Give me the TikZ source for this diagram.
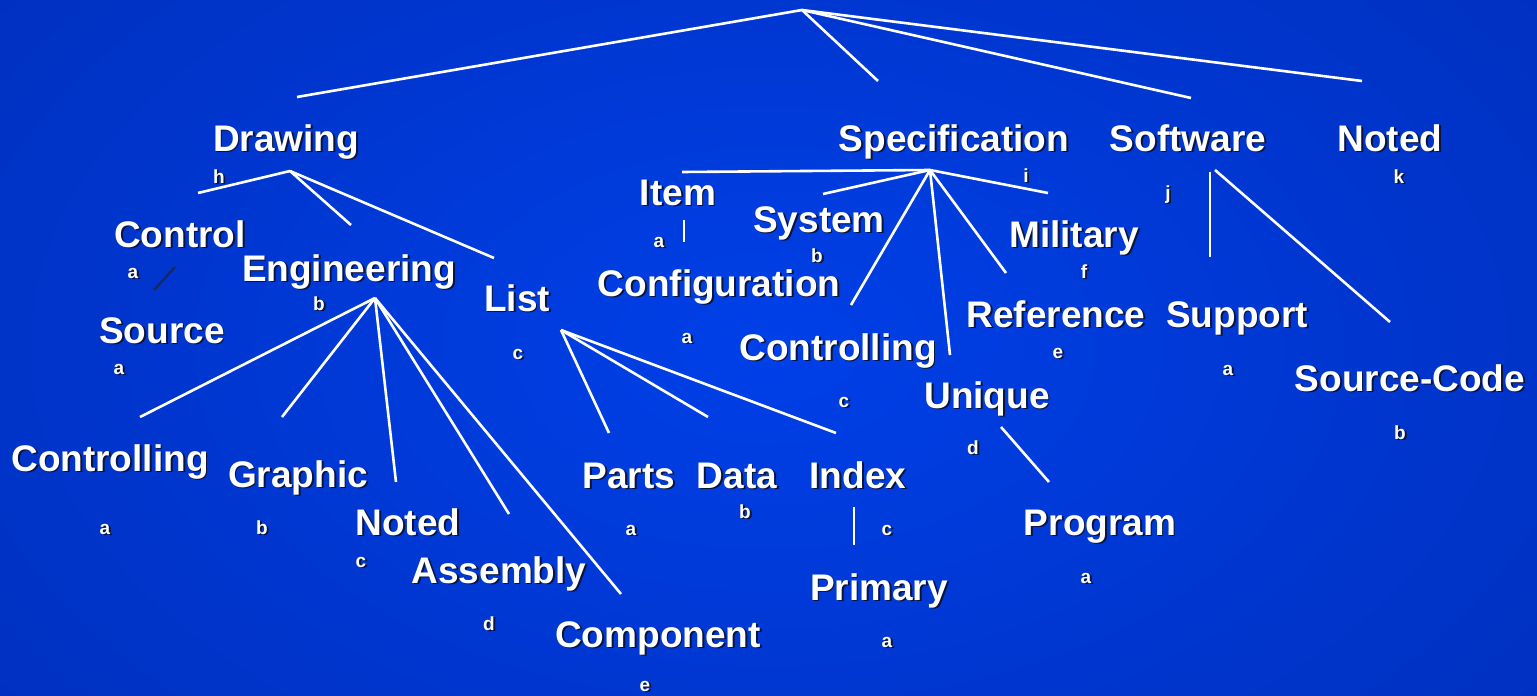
\documentclass[tikz,border=0pt]{standalone}
\usepackage{fontspec}
\setmainfont{Liberation Sans}
\definecolor{bgin}{RGB}{0,64,232}
\definecolor{bgout}{RGB}{0,48,192}
\definecolor{shadowc}{RGB}{10,20,60}
\definecolor{darkline}{RGB}{25,40,90}
\newcommand\shd[1]{\makebox[0pt][l]{\kern1.8pt\raisebox{-1.8pt}{\textcolor{shadowc}{#1}}}#1}
\tikzset{
  word/.style={text=white, inner sep=0pt, anchor=base, font=\fontsize{37}{40}\selectfont\bfseries},
  tag/.style={text=white, inner sep=0pt, anchor=base, font=\fontsize{19}{22}\selectfont\bfseries},
  link/.style={draw=white, line width=2.6pt},
  darklink/.style={draw=darkline, line width=2.2pt}
}
\begin{document}
\begin{tikzpicture}[x=1pt,y=-1pt]
\useasboundingbox (0,0) rectangle (1537,696);
\shade[inner color=bgin, outer color=bgout] (-200,-250) rectangle (1737,946);

% ---- words ----
\node[word] (drawing) at (286,151) {\shd{Drawing}};
\node[tag] (drawingt) at (219,183) {\shd{h}};
\node[word] (spec) at (954,151) {\shd{Specification}};
\node[tag] (spect) at (1026,182) {\shd{i}};
\node[word] (software) at (1188,151) {\shd{Software}};
\node[tag] (softwaret) at (1168,199) {\shd{j}};
\node[word] (notedtop) at (1390,151) {\shd{Noted}};
\node[tag] (notedtopt) at (1399,183) {\shd{k}};

\node[word] (control) at (180,247) {\shd{Control}};
\node[tag] (controlt) at (133,278) {\shd{a}};
\node[word] (source) at (162,343) {\shd{Source}};
\node[tag] (sourcet) at (119,374) {\shd{a}};
\node[word] (engineering) at (349,281) {\shd{Engineering}};
\node[tag] (engineeringt) at (319,310) {\shd{b}};
\node[word] (list) at (517,311) {\shd{List}};
\node[tag] (listt) at (518,359) {\shd{c}};

\node[word] (item) at (678,205) {\shd{Item}};
\node[tag] (itemt) at (659,247) {\shd{a}};
\node[word] (system) at (819,232) {\shd{System}};
\node[tag] (systemt) at (817,262) {\shd{b}};
\node[word] (config) at (719,296) {\shd{Configuration}};
\node[tag] (configt) at (687,343) {\shd{a}};
\node[word] (military) at (1074,247) {\shd{Military}};
\node[tag] (militaryt) at (1084,278) {\shd{f}};
\node[word] (speccontrol) at (838,360) {\shd{Controlling}};
\node[tag] (speccontrolt) at (844,407) {\shd{c}};
\node[word] (reference) at (1056,327) {\shd{Reference}};
\node[tag] (referencet) at (1058,358) {\shd{e}};
\node[word] (support) at (1237,327) {\shd{Support}};
\node[tag] (supportt) at (1228,375) {\shd{a}};
\node[word] (unique) at (987,408) {\shd{Unique}};
\node[tag] (uniquet) at (973,454) {\shd{d}};
\node[word] (sourcecode) at (1410,391) {\shd{Source-Code}};
\node[tag] (sourcecodet) at (1400,439) {\shd{b}};

\node[word] (drawcontrol) at (110,471) {\shd{Controlling}};
\node[tag] (drawcontrolt) at (105,534) {\shd{a}};
\node[word] (graphic) at (298,487) {\shd{Graphic}};
\node[tag] (graphict) at (262,534) {\shd{b}};
\node[word] (noteddraw) at (408,535) {\shd{Noted}};
\node[tag] (noteddrawt) at (361,567) {\shd{c}};
\node[word] (assembly) at (499,583) {\shd{Assembly}};
\node[tag] (assemblyt) at (489,630) {\shd{d}};
\node[word] (component) at (658,647) {\shd{Component}};
\node[tag] (componentt) at (645,691) {\shd{e}};

\node[word] (parts) at (629,488) {\shd{Parts}};
\node[tag] (partst) at (631,535) {\shd{a}};
\node[word] (data) at (737,488) {\shd{Data}};
\node[tag] (datat) at (745,518) {\shd{b}};
\node[word] (index) at (858,488) {\shd{Index}};
\node[tag] (indext) at (887,535) {\shd{c}};
\node[word] (primary) at (879,600) {\shd{Primary}};
\node[tag] (primaryt) at (887,647) {\shd{a}};
\node[word] (program) at (1100,535) {\shd{Program}};
\node[tag] (programt) at (1086,583) {\shd{a}};

% ---- connector end points ----
\coordinate (root) at (802,10);
\coordinate (r1) at (297,97);
\coordinate (r2) at (878,81);
\coordinate (r3) at (1191,98);
\coordinate (r4) at (1362,81);

\coordinate (dh) at (290,171);
\coordinate (d1) at (198,193);
\coordinate (d2) at (351,225);
\coordinate (d3) at (494,258);

\coordinate (cs1) at (154,290);
\coordinate (cs2) at (175,267);

\coordinate (eh) at (375,298);
\coordinate (e1) at (140,417);
\coordinate (e2) at (282,417);
\coordinate (e3) at (396,482);
\coordinate (e4) at (509,514);
\coordinate (e5) at (621,594);

\coordinate (lh) at (561,330);
\coordinate (l1) at (609,433);
\coordinate (l2) at (708,417);
\coordinate (l3) at (836,433);

\coordinate (sh) at (930,170);
\coordinate (s1) at (682,172);
\coordinate (s2) at (823,194);
\coordinate (s3) at (851,305);
\coordinate (s4) at (950,355);
\coordinate (s5) at (1006,273);
\coordinate (s6) at (1048,193);

\coordinate (it1) at (684,220);
\coordinate (it2) at (684,242);

\coordinate (sw1) at (1210,172);
\coordinate (sw2) at (1210,257);
\coordinate (sw3) at (1215,170);
\coordinate (sw4) at (1390,322);

\coordinate (up1) at (1001,427);
\coordinate (up2) at (1049,482);
\coordinate (ip1) at (854,507);
\coordinate (ip2) at (854,545);

% ---- connectors ----
\draw[link] (root) -- (r1);
\draw[link] (root) -- (r2);
\draw[link] (root) -- (r3);
\draw[link] (root) -- (r4);
\draw[link] (dh) -- (d1);
\draw[link] (dh) -- (d2);
\draw[link] (dh) -- (d3);
\draw[darklink] (cs1) -- (cs2);
\draw[link] (eh) -- (e1);
\draw[link] (eh) -- (e2);
\draw[link] (eh) -- (e3);
\draw[link] (eh) -- (e4);
\draw[link] (eh) -- (e5);
\draw[link] (lh) -- (l1);
\draw[link] (lh) -- (l2);
\draw[link] (lh) -- (l3);
\draw[link] (sh) -- (s1);
\draw[link] (sh) -- (s2);
\draw[link] (sh) -- (s3);
\draw[link] (sh) -- (s4);
\draw[link] (sh) -- (s5);
\draw[link] (sh) -- (s6);
\draw[link] (it1) -- (it2);
\draw[link] (sw1) -- (sw2);
\draw[link] (sw3) -- (sw4);
\draw[link] (up1) -- (up2);
\draw[link] (ip1) -- (ip2);
\end{tikzpicture}
\end{document}
